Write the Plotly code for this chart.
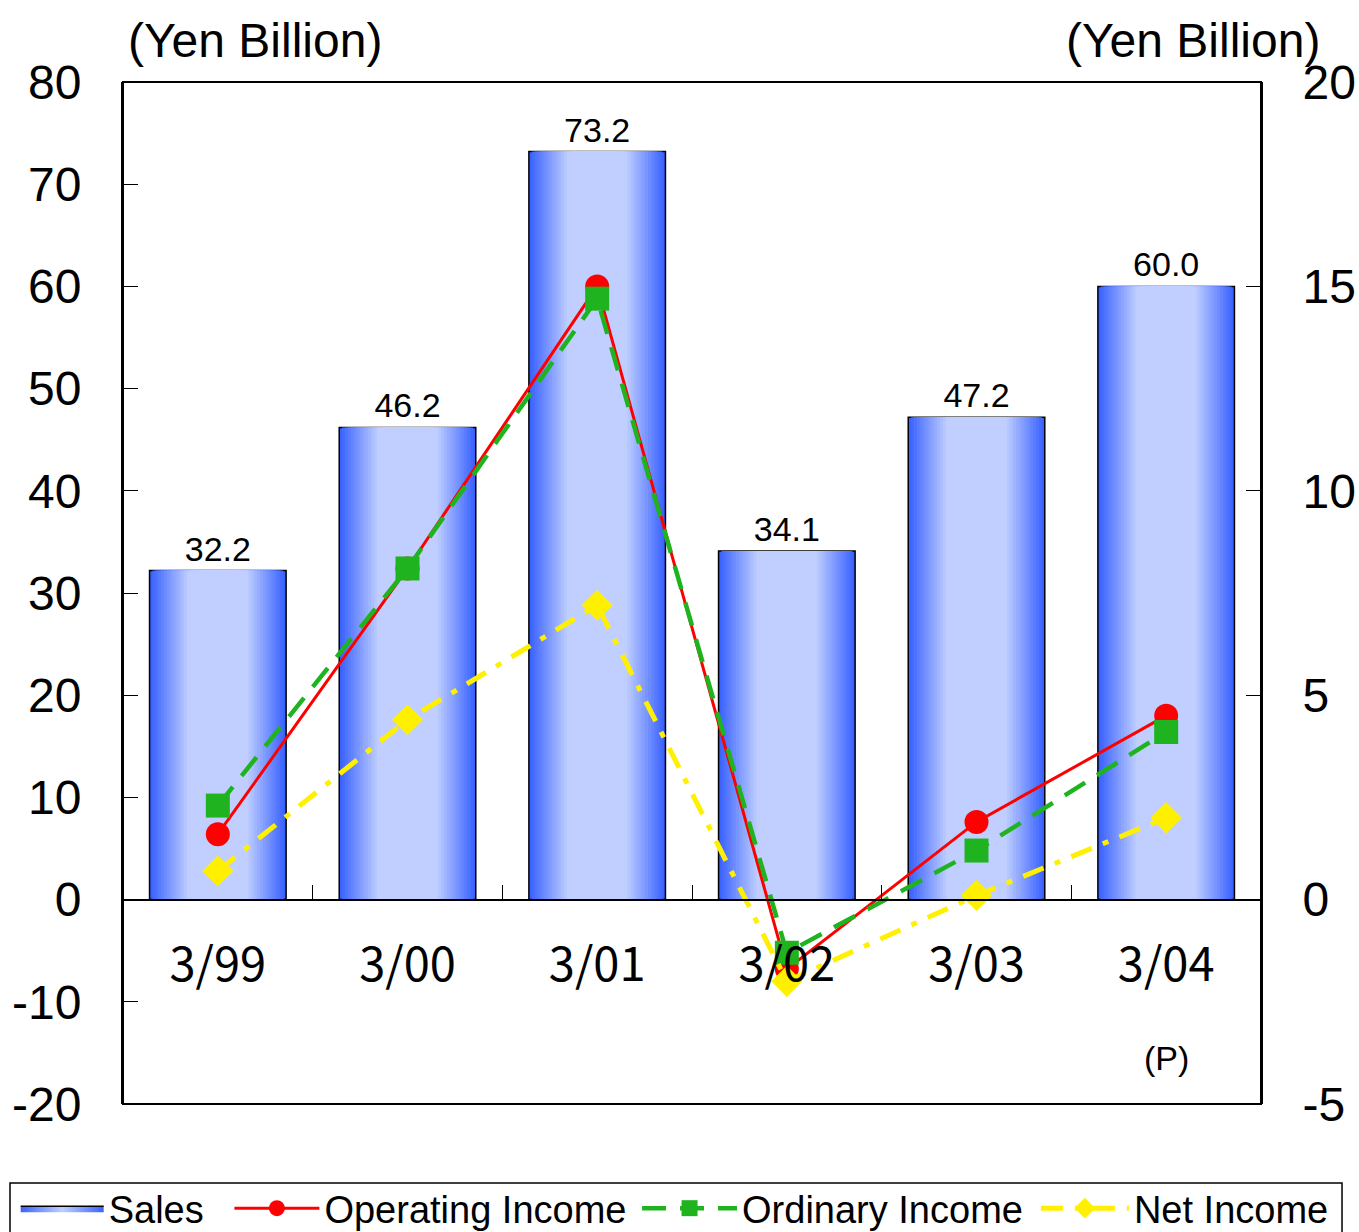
import plotly.graph_objects as go

# data
periods = ["3/99", "3/00", "3/01", "3/02", "3/03", "3/04"]
sales = [32.2, 46.2, 73.2, 34.1, 47.2, 60.0]
operating_income = [1.6, 8.1, 15.0, -1.7, 1.9, 4.5]
ordinary_income = [2.3, 8.1, 14.7, -1.3, 1.2, 4.1]
net_income = [0.7, 4.4, 7.2, -2.0, 0.1, 2.0]

left_ticks = [-20, -10, 0, 10, 20, 30, 40, 50, 60, 70, 80]
left_labels = ["-20", "-10", "0", "10", "20", "30", "40", "50", "60", "70", "80"]
right_ticks = [-5, 0, 5, 10, 15, 20]
right_labels = ["-5", "0", "5", "10", "15", "20"]

FONT = "Arial, Liberation Sans, sans-serif"
DARK = (58, 98, 255)
LIGHT = (192, 207, 255)


def _mix(t):
    r, g, b = (round(DARK[i] + (LIGHT[i] - DARK[i]) * t) for i in range(3))
    return f"rgb({r},{g},{b})"


fig = go.Figure()

# legend swatch for the gradient bars
fig.add_trace(go.Scatter(
    x=[None], y=[None], name="Sales", mode="lines", fill="toself",
    fillgradient=dict(type="horizontal",
                      colorscale=[[0, _mix(0)], [0.5, _mix(1)], [1, _mix(0)]]),
    fillcolor=_mix(0.5),
    line=dict(color="black", width=1.5),
    legend="legend",
))

# gradient bars: stacked overlay of narrowing bars, darker at the edges
n_layers = 18
bar_w = 0.72
for k in range(n_layers):
    t = k / (n_layers - 1)
    width = bar_w * (1 - 0.72 * t)
    fig.add_trace(go.Bar(
        x=periods, y=sales,
        width=width,
        marker=dict(color=_mix(min(1.0, t * 1.3)),
                    line=dict(color="black", width=1.5 if k == 0 else 0)),
        text=[f"{v:.1f}" for v in sales] if k == 0 else None,
        textposition="outside",
        textfont=dict(size=34, color="black", family=FONT),
        cliponaxis=False,
        name="Sales",
        showlegend=False,
        hoverinfo="skip" if k else None,
    ))

fig.add_trace(go.Scatter(
    x=periods, y=operating_income, yaxis="y2", name="Operating Income",
    mode="lines+markers",
    line=dict(color="#ff0000", width=3),
    marker=dict(symbol="circle", size=24, color="#ff0000"),
    legend="legend2",
))
fig.add_trace(go.Scatter(
    x=periods, y=ordinary_income, yaxis="y2", name="Ordinary Income",
    mode="lines+markers",
    line=dict(color="#1fb41f", width=4.5, dash="24px,14px"),
    marker=dict(symbol="square", size=24, color="#1fb41f"),
    legend="legend3",
))
fig.add_trace(go.Scatter(
    x=periods, y=net_income, yaxis="y2", name="Net Income",
    mode="lines+markers",
    line=dict(color="#fff000", width=5, dash="22px,12px,6px,12px"),
    marker=dict(symbol="diamond", size=24, color="#fff000"),
    legend="legend4",
))


# one legend per entry so the spacing follows the original layout
def _legend(x, item_w):
    return dict(
        orientation="h", x=x, xanchor="left", y=-0.0714, yanchor="top",
        bgcolor="rgba(0,0,0,0)", borderwidth=0,
        font=dict(size=38, family=FONT),
        itemwidth=item_w,
    )


fig.update_layout(
    width=1359, height=1232,
    margin=dict(l=123, r=98, t=82, b=128, autoexpand=False),
    plot_bgcolor="white", paper_bgcolor="white",
    barmode="overlay",
    font=dict(family=FONT, size=48, color="black"),
    xaxis=dict(
        type="category", categoryarray=periods,
        anchor="free", position=0.2,
        showline=True, linecolor="black", linewidth=2,
        ticks="inside", tickson="boundaries", ticklen=14, tickcolor="black",
        tickfont=dict(family="Noto Sans CJK JP", size=47),
        ticklabelstandoff=24,
        showgrid=False, zeroline=False,
    ),
    yaxis=dict(
        range=[-20, 80], tickvals=left_ticks, ticktext=left_labels,
        showline=True, linecolor="black", linewidth=2,
        ticks="inside", ticklen=15, tickcolor="black",
        ticklabelstandoff=30,
        showgrid=False, zeroline=False,
    ),
    yaxis2=dict(
        range=[-5, 20], tickvals=right_ticks, ticktext=right_labels,
        overlaying="y", side="right",
        showline=True, linecolor="black", linewidth=2,
        ticks="inside", ticklen=15, tickcolor="black",
        ticklabelstandoff=30,
        showgrid=False, zeroline=False,
    ),
    legend=_legend(-0.0943, 83),
    legend2=_legend(0.0935, 85),
    legend3=_legend(0.4517, 95),
    legend4=_legend(0.8022, 88),
    shapes=[
        dict(type="rect", xref="paper", yref="paper", x0=0, x1=1, y0=0, y1=1,
             line=dict(color="black", width=2)),
        # legend frame
        dict(type="rect", xref="paper", yref="paper", x0=-0.0993, x1=1.0712,
             y0=-0.2, y1=-0.0773, line=dict(color="black", width=1.5)),
    ],
    annotations=[
        dict(text="(Yen Billion)", xref="paper", yref="paper", x=0.116, y=1.041,
             xanchor="center", yanchor="middle", showarrow=False, font=dict(size=48)),
        dict(text="(Yen Billion)", xref="paper", yref="paper", x=0.94, y=1.041,
             xanchor="center", yanchor="middle", showarrow=False, font=dict(size=48)),
        dict(text="(P)", x="3/04", y=-15.5, showarrow=False, font=dict(size=34)),
    ],
)

fig.write_html("out.html", config={"displayModeBar": False},
               post_script="document.body.style.margin='0';")
